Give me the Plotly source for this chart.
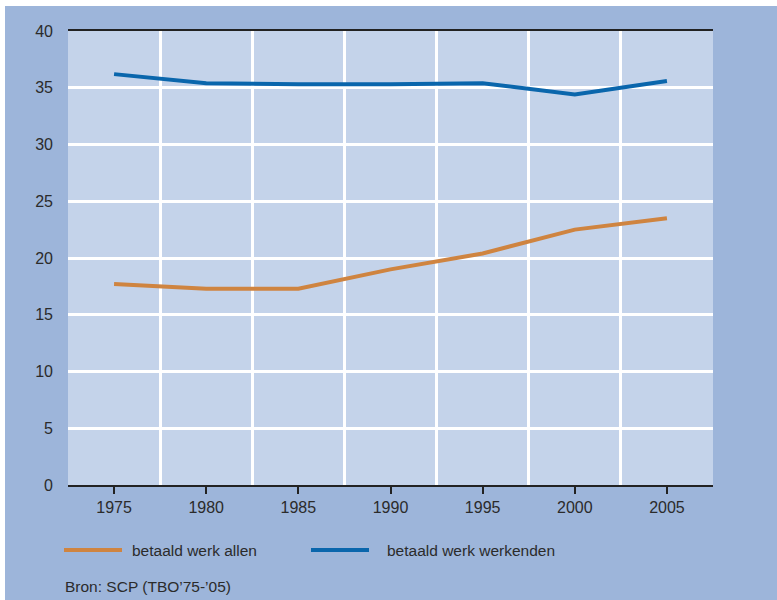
import plotly.graph_objects as go

years = [1975, 1980, 1985, 1990, 1995, 2000, 2005]
allen = [17.7, 17.3, 17.3, 19.0, 20.4, 22.5, 23.5]
werkenden = [36.2, 35.4, 35.3, 35.3, 35.4, 34.4, 35.6]
series_names = ["betaald werk allen", "betaald werk werkenden"]
y_ticks = [0, 5, 10, 15, 20, 25, 30, 35, 40]
source_text = "Bron: SCP (TBO\u201975-\u201905)"

ORANGE = "#cf8440"
BLUE = "#0a66ac"
OUTER = "#9db5da"
INNER = "#c4d3ea"
TEXT = "#2b2b2b"
FONT = "Liberation Sans, Arial, sans-serif"

W, H = 777, 600
L, R, T, B = 68, 713, 31, 485


def px_x(x):
    return (x - L) / (R - L)


def px_y(y):
    return (B - y) / (B - T)


fig = go.Figure()
fig.add_trace(go.Scatter(x=years, y=allen, mode="lines", name=series_names[0],
                         line=dict(color=ORANGE, width=4), hoverinfo="skip"))
fig.add_trace(go.Scatter(x=years, y=werkenden, mode="lines", name=series_names[1],
                         line=dict(color=BLUE, width=4), hoverinfo="skip"))

shapes = [
    # white border strips top and left
    dict(type="rect", xref="paper", yref="paper", x0=px_x(0), x1=px_x(W), y0=px_y(6), y1=px_y(0),
         fillcolor="white", line_width=0),
    dict(type="rect", xref="paper", yref="paper", x0=px_x(0), x1=px_x(5), y0=px_y(H), y1=px_y(0),
         fillcolor="white", line_width=0),
    # legend swatches
    dict(type="line", xref="paper", yref="paper", x0=px_x(64), x1=px_x(122), y0=px_y(550), y1=px_y(550),
         line=dict(color=ORANGE, width=4)),
    dict(type="line", xref="paper", yref="paper", x0=px_x(311), x1=px_x(369), y0=px_y(550), y1=px_y(550),
         line=dict(color=BLUE, width=4)),
]

annotations = [
    dict(text=series_names[0], xref="paper", yref="paper", x=px_x(130), y=px_y(550),
         xanchor="left", yanchor="middle", showarrow=False, font=dict(size=15.5, color=TEXT)),
    dict(text=series_names[1], xref="paper", yref="paper", x=px_x(385), y=px_y(550),
         xanchor="left", yanchor="middle", showarrow=False, font=dict(size=15.5, color=TEXT)),
    dict(text=source_text, xref="paper", yref="paper", x=px_x(63), y=px_y(586),
         xanchor="left", yanchor="middle", showarrow=False, font=dict(size=15.5, color=TEXT)),
]

fig.update_layout(
    width=W, height=H,
    margin=dict(l=L, r=W - R, t=T, b=H - B),
    paper_bgcolor=OUTER,
    plot_bgcolor=INNER,
    showlegend=False,
    font=dict(family=FONT, size=16, color=TEXT),
    shapes=shapes,
    annotations=annotations,
    xaxis=dict(
        range=[1972.5, 2007.5],
        tickvals=years,
        ticks="outside", ticklen=7, tickwidth=1.5, tickcolor="#222",
        showgrid=False, zeroline=False,
        showline=True, linecolor="#222", linewidth=1.5, mirror=True,
        minor=dict(tickvals=[y + 2.5 for y in years[:-1]], showgrid=True,
                   gridcolor="white", gridwidth=2.5, ticks=""),
    ),
    yaxis=dict(
        range=[0, 40],
        tickvals=y_ticks,
        showgrid=True, gridcolor="white", gridwidth=2.5,
        zeroline=False, showline=False, ticks="",
        ticklabelstandoff=14,
    ),
)

# drop the browser's default body margin so the figure sits at the page corner
fig.write_html("out.html", config={"displayModeBar": False},
               post_script="document.body.style.margin='0';")
